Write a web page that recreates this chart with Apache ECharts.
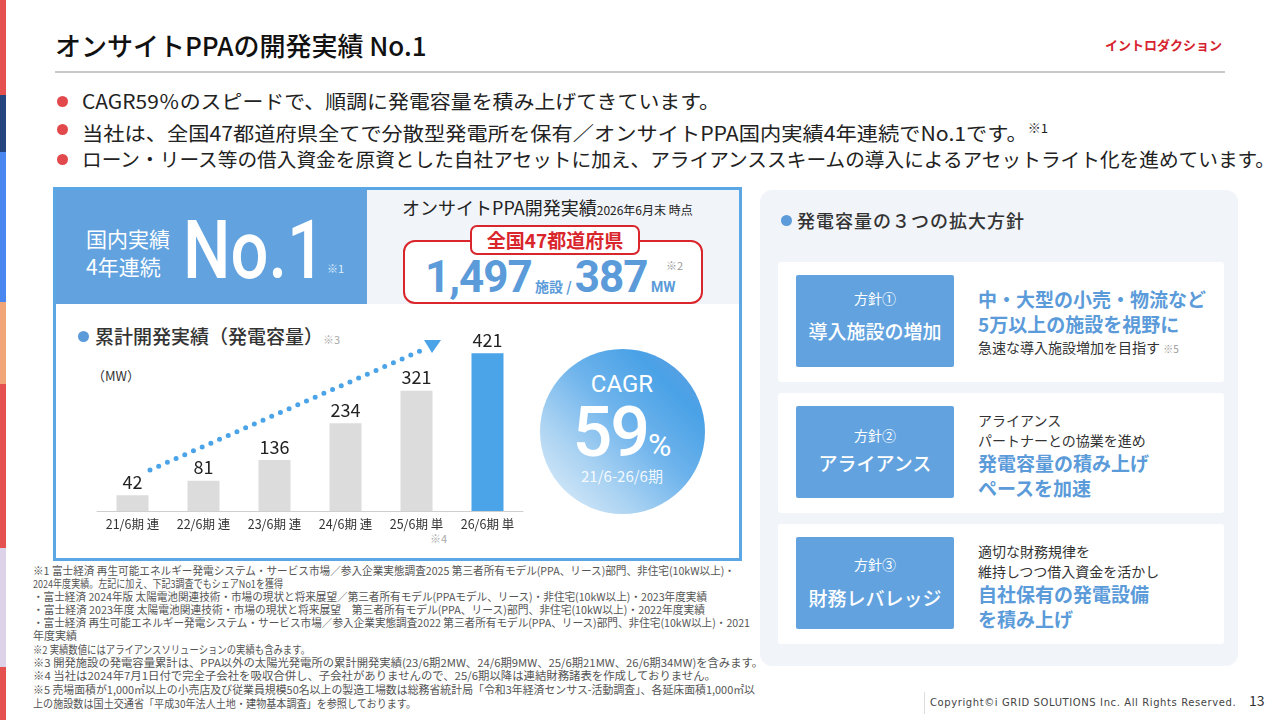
<!DOCTYPE html>
<html><head><meta charset="utf-8">
<script src="https://cdn.jsdelivr.net/npm/echarts@6/dist/echarts.min.js"></script>
<style>
html,body{margin:0;padding:0;width:1280px;height:720px;overflow:hidden;background:#fff;font-family:"Noto Sans CJK JP","Noto Sans",sans-serif;color:#222;}
.a{position:absolute;white-space:nowrap;}
.fit{transform-origin:0 50%;}
.strip{position:absolute;left:0;width:6px;}
.bul{position:absolute;left:57px;width:11px;height:11px;border-radius:50%;background:#e2494c;}
.bl{position:absolute;left:82px;font-size:19.5px;line-height:24px;}
.fn{position:absolute;left:33px;font-size:11px;line-height:13px;color:#555;}
.card{position:absolute;left:778px;width:446px;height:120px;background:#fff;border-radius:3px;}
.pbox{position:absolute;left:18px;top:13px;width:158px;height:92px;background:#62a3df;border-radius:2px;color:#fff;text-align:center;}
.ct{position:absolute;left:200px;white-space:nowrap;}
.blue{color:#5b9bd9;font-weight:700;font-size:19px;line-height:25px;}
.dk{color:#333;font-size:14px;line-height:20px;}
</style></head>
<body>
<!-- left color strip -->
<div class="strip" style="top:0;height:95px;background:#e5514f"></div>
<div class="strip" style="top:95px;height:57px;background:#25457e"></div>
<div class="strip" style="top:152px;height:150px;background:#4a86f0"></div>
<div class="strip" style="top:302px;height:82px;background:#f2a677"></div>
<div class="strip" style="top:384px;height:164px;background:#e5514f"></div>
<div class="strip" style="top:548px;height:119px;background:#ddd3e8"></div>
<div class="strip" style="top:667px;height:53px;background:#e5514f"></div>

<!-- header -->
<div class="a" style="left:55px;top:28px;font-size:26px;font-weight:500;color:#111;line-height:34px">オンサイトPPAの開発実績 No.1</div>
<div class="a" style="left:1105px;top:36px;font-size:13px;font-weight:700;color:#d5232f;line-height:18px">イントロダクション</div>
<div class="a" style="left:55px;top:71px;width:1170px;height:2px;background:#c8c8c8"></div>

<div class="bul" style="top:96px"></div>
<div class="bul" style="top:124px"></div>
<div class="bul" style="top:154px"></div>
<div class="a bl fit" data-w="638" style="top:89px">CAGR59％のスピードで、順調に発電容量を積み上げてきています。</div>
<div class="a bl fit" data-w="966" style="top:116px">当社は、全国47都道府県全てで分散型発電所を保有／オンサイトPPA国内実績4年連続でNo.1です。<span style="font-size:12px;vertical-align:8px">※1</span></div>
<div class="a bl fit" data-w="1193" style="top:147px">ローン・リース等の借入資金を原資とした自社アセットに加え、アライアンススキームの導入によるアセットライト化を進めています。</div>

<!-- left box -->
<div class="a" style="left:53px;top:187px;width:683px;height:368px;border:3px solid #5ba6e4;background:#fff"></div>
<div class="a" style="left:56px;top:190px;width:311px;height:114px;background:#62a3df"></div>
<div class="a" style="left:367px;top:190px;width:372px;height:114px;background:#f1f4f8"></div>
<div class="a" style="left:86px;top:224px;font-size:21px;line-height:28px;color:#fff">国内実績</div>
<div class="a" style="left:86px;top:252px;font-size:21px;line-height:28px;color:#fff">4年連続</div>
<div class="a fit" data-w="142" style="left:183px;top:208px;font-family:Roboto,'Liberation Sans',sans-serif;font-size:82px;font-weight:500;line-height:84px;color:#fff">No.1</div>
<div class="a" style="left:327px;top:261px;font-size:11px;color:#dfeefb;line-height:14px">※1</div>

<div class="a" style="left:402px;top:195px;line-height:24px;color:#222"><span style="font-size:18px">オンサイトPPA開発実績</span><span style="font-size:12px">2026年6月末 時点</span></div>
<div class="a" style="left:403px;top:240px;width:296px;height:60px;border:2px solid #d9262c;border-radius:12px;background:#fff"></div>
<div class="a" style="left:470px;top:225px;width:166px;height:26px;border:2px solid #d9262c;border-radius:7px;background:#fff;color:#d9262c;font-size:19px;font-weight:700;line-height:26px;text-align:center">全国47都道府県</div>
<div class="a" style="left:425px;top:252px;line-height:50px;color:#5b9bd9;font-family:Roboto,'Liberation Sans',sans-serif;font-weight:700">
<span style="font-size:44px;letter-spacing:-1px">1,497</span><span style="font-size:14px;font-family:'Noto Sans CJK JP'"> 施設 / </span><span style="font-size:44px;letter-spacing:-1px">387</span><span style="font-size:14px"> MW</span></div>
<div class="a" style="left:666px;top:258px;font-size:11px;color:#999;line-height:14px">※2</div>

<div class="a" style="left:78px;top:331px;width:11px;height:11px;border-radius:50%;background:#5b9bd9"></div>
<div class="a" style="left:95px;top:323px;font-size:19px;line-height:26px;color:#333;font-weight:500">累計開発実績（発電容量）<span style="font-size:11px;color:#aaa;font-weight:400">※3</span></div>
<div class="a" style="left:92px;top:367px;font-size:13px;color:#333;line-height:18px">（MW）</div>
<div class="a" style="left:430px;top:531px;font-size:11px;color:#aaa;line-height:14px">※4</div>

<!-- CAGR circle -->
<div class="a" style="left:540px;top:349px;width:165px;height:165px;border-radius:50%;background:linear-gradient(45deg,#e6f2fb 0%,#a9d2f2 30%,#6db3ec 55%,#4aa2e6 78%,#5a9ee2 90%,#b3b6e4 100%);"></div>
<div class="a" style="left:541px;top:370px;width:162px;text-align:center;color:#fff;font-family:Roboto,'Liberation Sans',sans-serif;font-size:24px;line-height:28px">CAGR</div>
<div class="a" style="left:541px;top:396px;width:162px;text-align:center;color:#fff;font-family:Roboto,'Liberation Sans',sans-serif;line-height:72px"><span style="font-size:70px;font-weight:500;letter-spacing:-2px">59</span><span style="font-size:32px">%</span></div>
<div class="a" style="left:541px;top:466px;width:162px;text-align:center;color:rgba(255,255,255,0.9);font-size:15px;line-height:20px">21/6-26/6期</div>

<!-- footnotes -->
<div class="fn fit a" data-w="702" style="top:564px">※1 富士経済 再生可能エネルギー発電システム・サービス市場／参入企業実態調査2025 第三者所有モデル(PPA、リース)部門、非住宅(10kW以上)・</div>
<div class="fn fit a" data-w="250" style="top:577px">2024年度実績。左記に加え、下記3調査でもシェアNo1を獲得</div>
<div class="fn fit a" data-w="674" style="top:590px">・富士経済 2024年版 太陽電池関連技術・市場の現状と将来展望／第三者所有モデル(PPAモデル、リース)・非住宅(10kW以上)・2023年度実績</div>
<div class="fn fit a" data-w="672" style="top:603px">・富士経済 2023年度 太陽電池関連技術・市場の現状と将来展望　第三者所有モデル(PPA、リース)部門、非住宅(10kW以上)・2022年度実績</div>
<div class="fn fit a" data-w="717" style="top:616px">・富士経済 再生可能エネルギー発電システム・サービス市場／参入企業実態調査2022 第三者所有モデル(PPA、リース)部門、非住宅(10kW以上)・2021</div>
<div class="fn a" style="top:629px">年度実績</div>
<div class="fn fit a" data-w="277" style="top:643px">※2 実績数値にはアライアンスソリューションの実績も含みます。</div>
<div class="fn fit a" data-w="730" style="top:656px">※3 開発施設の発電容量累計は、PPA以外の太陽光発電所の累計開発実績(23/6期2MW、24/6期9MW、25/6期21MW、26/6期34MW)を含みます。</div>
<div class="fn fit a" data-w="683" style="top:669px">※4 当社は2024年7月1日付で完全子会社を吸収合併し、子会社がありませんので、25/6期以降は連結財務諸表を作成しておりません。</div>
<div class="fn fit a" data-w="722" style="top:683px">※5 売場面積が1,000㎡以上の小売店及び従業員規模50名以上の製造工場数は総務省統計局「令和3年経済センサス-活動調査」、各延床面積1,000㎡以</div>
<div class="fn fit a" data-w="383" style="top:697px">上の施設数は国土交通省「平成30年法人土地・建物基本調査」を参照しております。</div>

<!-- right panel -->
<div class="a" style="left:760px;top:190px;width:478px;height:476px;background:#f1f4f8;border-radius:12px"></div>
<div class="a" style="left:781px;top:215px;width:11px;height:11px;border-radius:50%;background:#5b9bd9"></div>
<div class="a" style="left:797px;top:207px;font-size:18px;line-height:26px;font-weight:500;color:#333;letter-spacing:1px">発電容量の３つの拡大方針</div>

<div class="card" style="top:262px">
  <div class="pbox"><div style="position:absolute;top:13px;width:100%;font-size:14px;line-height:20px">方針①</div><div style="position:absolute;top:43px;width:100%;font-size:19px;line-height:26px;font-weight:500">導入施設の増加</div></div>
  <div class="ct blue" style="top:24px">中・大型の小売・物流など</div>
  <div class="ct blue" style="top:49px">5万以上の施設を視野に</div>
  <div class="ct dk" style="top:75px">急速な導入施設増加を目指す <span style="font-size:10px;color:#999">※5</span></div>
</div>
<div class="card" style="top:393px">
  <div class="pbox"><div style="position:absolute;top:19px;width:100%;font-size:14px;line-height:20px">方針②</div><div style="position:absolute;top:44px;width:100%;font-size:19px;line-height:26px;font-weight:500">アライアンス</div></div>
  <div class="ct dk" style="top:17px">アライアンス</div>
  <div class="ct dk" style="top:37px">パートナーとの協業を進め</div>
  <div class="ct blue" style="top:57px">発電容量の積み上げ</div>
  <div class="ct blue" style="top:82px">ペースを加速</div>
</div>
<div class="card" style="top:524px">
  <div class="pbox"><div style="position:absolute;top:17px;width:100%;font-size:14px;line-height:20px">方針③</div><div style="position:absolute;top:48px;width:100%;font-size:19px;line-height:26px;font-weight:500">財務レバレッジ</div></div>
  <div class="ct dk" style="top:17px">適切な財務規律を</div>
  <div class="ct dk" style="top:37px">維持しつつ借入資金を活かし</div>
  <div class="ct blue" style="top:57px">自社保有の発電設備</div>
  <div class="ct blue" style="top:82px">を積み上げ</div>
</div>

<!-- footer -->
<div class="a" style="left:924px;top:692px;width:1px;height:22px;background:#ddd"></div>
<div class="a" style="left:930px;top:696px;font-size:10px;line-height:14px;color:#444;letter-spacing:0.6px;font-family:'DejaVu Sans',sans-serif">Copyright©i GRID SOLUTIONS Inc. All Rights Reserved.</div>
<div class="a" style="left:1249px;top:690px;font-size:14px;line-height:20px;color:#333">13</div>

<div id="chart" style="position:absolute;left:0;top:0;width:1280px;height:720px;z-index:5;pointer-events:none"></div>

<script>
const categories = ['21/6期 連','22/6期 連','23/6期 連','24/6期 連','25/6期 単','26/6期 単'];
const capacityMW = [42, 81, 136, 234, 321, 421];
const barColors = ['#dcdcdc','#dcdcdc','#dcdcdc','#dcdcdc','#dcdcdc','#4ba3e8'];

// scale text rows to measured widths
document.querySelectorAll('.fit').forEach(el => {
  const w = el.getBoundingClientRect().width;
  const t = parseFloat(el.dataset.w);
  if (w > 0 && t) el.style.transform = 'scaleX(' + (t / w) + ')';
});

const chart = echarts.init(document.getElementById('chart'), null, {renderer: 'canvas'});
chart.setOption({
  backgroundColor: 'transparent',
  animation: false,
  grid: {left: 97, right: 757, top: 323.5, bottom: 209, containLabel: false},
  xAxis: {
    type: 'category', data: categories,
    axisLine: {lineStyle: {color: '#cfcfcf', width: 1}},
    axisTick: {show: false},
    axisLabel: {interval: 0, color: '#333', fontSize: 12.5, margin: 7, fontFamily: 'Noto Sans CJK JP'}
  },
  yAxis: {type: 'value', min: 0, max: 500, show: false},
  series: [{
    type: 'bar', barWidth: 32,
    data: capacityMW.map((v, i) => ({value: v, itemStyle: {color: barColors[i]}})),
    label: {show: true, position: 'top', distance: 4, color: '#222', fontSize: 18, fontFamily: 'Noto Sans CJK JP'}
  }],
  graphic: [
    {type: 'line', z: 10, shape: {x1: 150, y1: 470, x2: 420, y2: 351},
     style: {stroke: '#4ba3e8', lineWidth: 5, lineDash: [0, 9.5], lineCap: 'round'}},
    {type: 'polygon', z: 10, shape: {points: [[424, 340], [441, 340], [432, 353]]},
     style: {fill: '#4ba3e8'}}
  ]
});
</script>
</body></html>
